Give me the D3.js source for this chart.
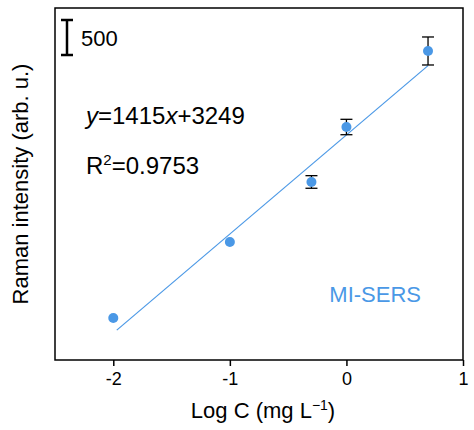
<!DOCTYPE html><html><head><meta charset="utf-8">
<script src="https://d3js.org/d3.v7.min.js"></script>
<style>body{margin:0;background:#fff}</style></head><body><svg width="474" height="430"></svg>
<script>
const logC=[-2,-1,-0.3,0,0.7];
const intensity=[635,1720,2578,3363,4449];
const errors=[0,0,90,110,200];
const xTicks=[-2,-1,0,1];
const slope=1415, intercept=3249, scaleBar=500;
const svg=d3.select("svg");
const L=55,R=463,T=8,B=360,blue="#4a98e6";
const x=d3.scaleLinear().domain([-2.5,1]).range([L,R]);
const y=d3.scaleLinear().domain([35,5063]).range([B,T]);
const f="Arial, Liberation Sans";
svg.append("rect").attr("x",L).attr("y",T).attr("width",R-L).attr("height",B-T).attr("fill","none").attr("stroke","#000").attr("stroke-width",1.5);
const ax=svg.append("g").attr("transform",`translate(0,${B})`).call(d3.axisBottom(x).tickValues(xTicks).tickSize(6).tickFormat(d=>String(d)));
ax.select(".domain").remove();
ax.selectAll("text").attr("font-family",f).attr("font-size",18).attr("fill","#000").attr("dy","0.9em");
ax.selectAll("line").attr("stroke-width",1.5);
svg.append("line").attr("x1",x(-1.97)).attr("y1",y(slope*-1.97+intercept)).attr("x2",x(0.7)).attr("y2",y(slope*0.7+intercept)).attr("stroke",blue).attr("stroke-width",1.2);
logC.forEach((c,i)=>{if(errors[i]){const g=svg.append("g").attr("stroke","#000").attr("stroke-width",1.3);
g.append("line").attr("x1",x(c)).attr("x2",x(c)).attr("y1",y(intensity[i]-errors[i])).attr("y2",y(intensity[i]+errors[i]));
[-1,1].forEach(s=>g.append("line").attr("x1",x(c)-6).attr("x2",x(c)+6).attr("y1",y(intensity[i]+s*errors[i])).attr("y2",y(intensity[i]+s*errors[i])));}});
svg.selectAll("circle").data(logC).join("circle").attr("cx",d=>x(d)).attr("cy",(d,i)=>y(intensity[i])).attr("r",5).attr("fill",blue);
const sb=svg.append("g").attr("stroke","#000").attr("stroke-width",2.5);
const y0=20,y1=y0+(y(0)-y(scaleBar));
sb.append("line").attr("x1",67).attr("x2",67).attr("y1",y0).attr("y2",y1);
sb.append("line").attr("x1",61).attr("x2",73).attr("y1",y0).attr("y2",y0);
sb.append("line").attr("x1",61).attr("x2",73).attr("y1",y1).attr("y2",y1);
svg.append("text").attr("x",81).attr("y",(y0+y1)/2+8).attr("font-family",f).attr("font-size",22).text("500");
const eq=svg.append("text").attr("x",86).attr("y",124).attr("font-family",f).attr("font-size",24);
eq.append("tspan").attr("font-style","italic").text("y");eq.append("tspan").text("=1415");eq.append("tspan").attr("font-style","italic").text("x");eq.append("tspan").text("+3249");
const r2=svg.append("text").attr("x",86).attr("y",174).attr("font-family",f).attr("font-size",24);
r2.append("tspan").text("R");r2.append("tspan").attr("font-size",15).attr("dy",-9).text("2");r2.append("tspan").attr("dy",9).text("=0.9753");
svg.append("text").attr("x",421).attr("y",302).attr("text-anchor","end").attr("font-family",f).attr("font-size",22).attr("fill",blue).text("MI-SERS");
svg.append("text").attr("x",263).attr("y",418).attr("text-anchor","middle").attr("font-family",f).attr("font-size",22).html('Log C (mg L<tspan font-size="14" dy="-8">−1</tspan><tspan dy="8">)</tspan>');
svg.append("text").attr("transform",`translate(28,${(T+B)/2}) rotate(-90)`).attr("text-anchor","middle").attr("font-family",f).attr("font-size",22).text("Raman intensity (arb. u.)");
</script></body></html>
